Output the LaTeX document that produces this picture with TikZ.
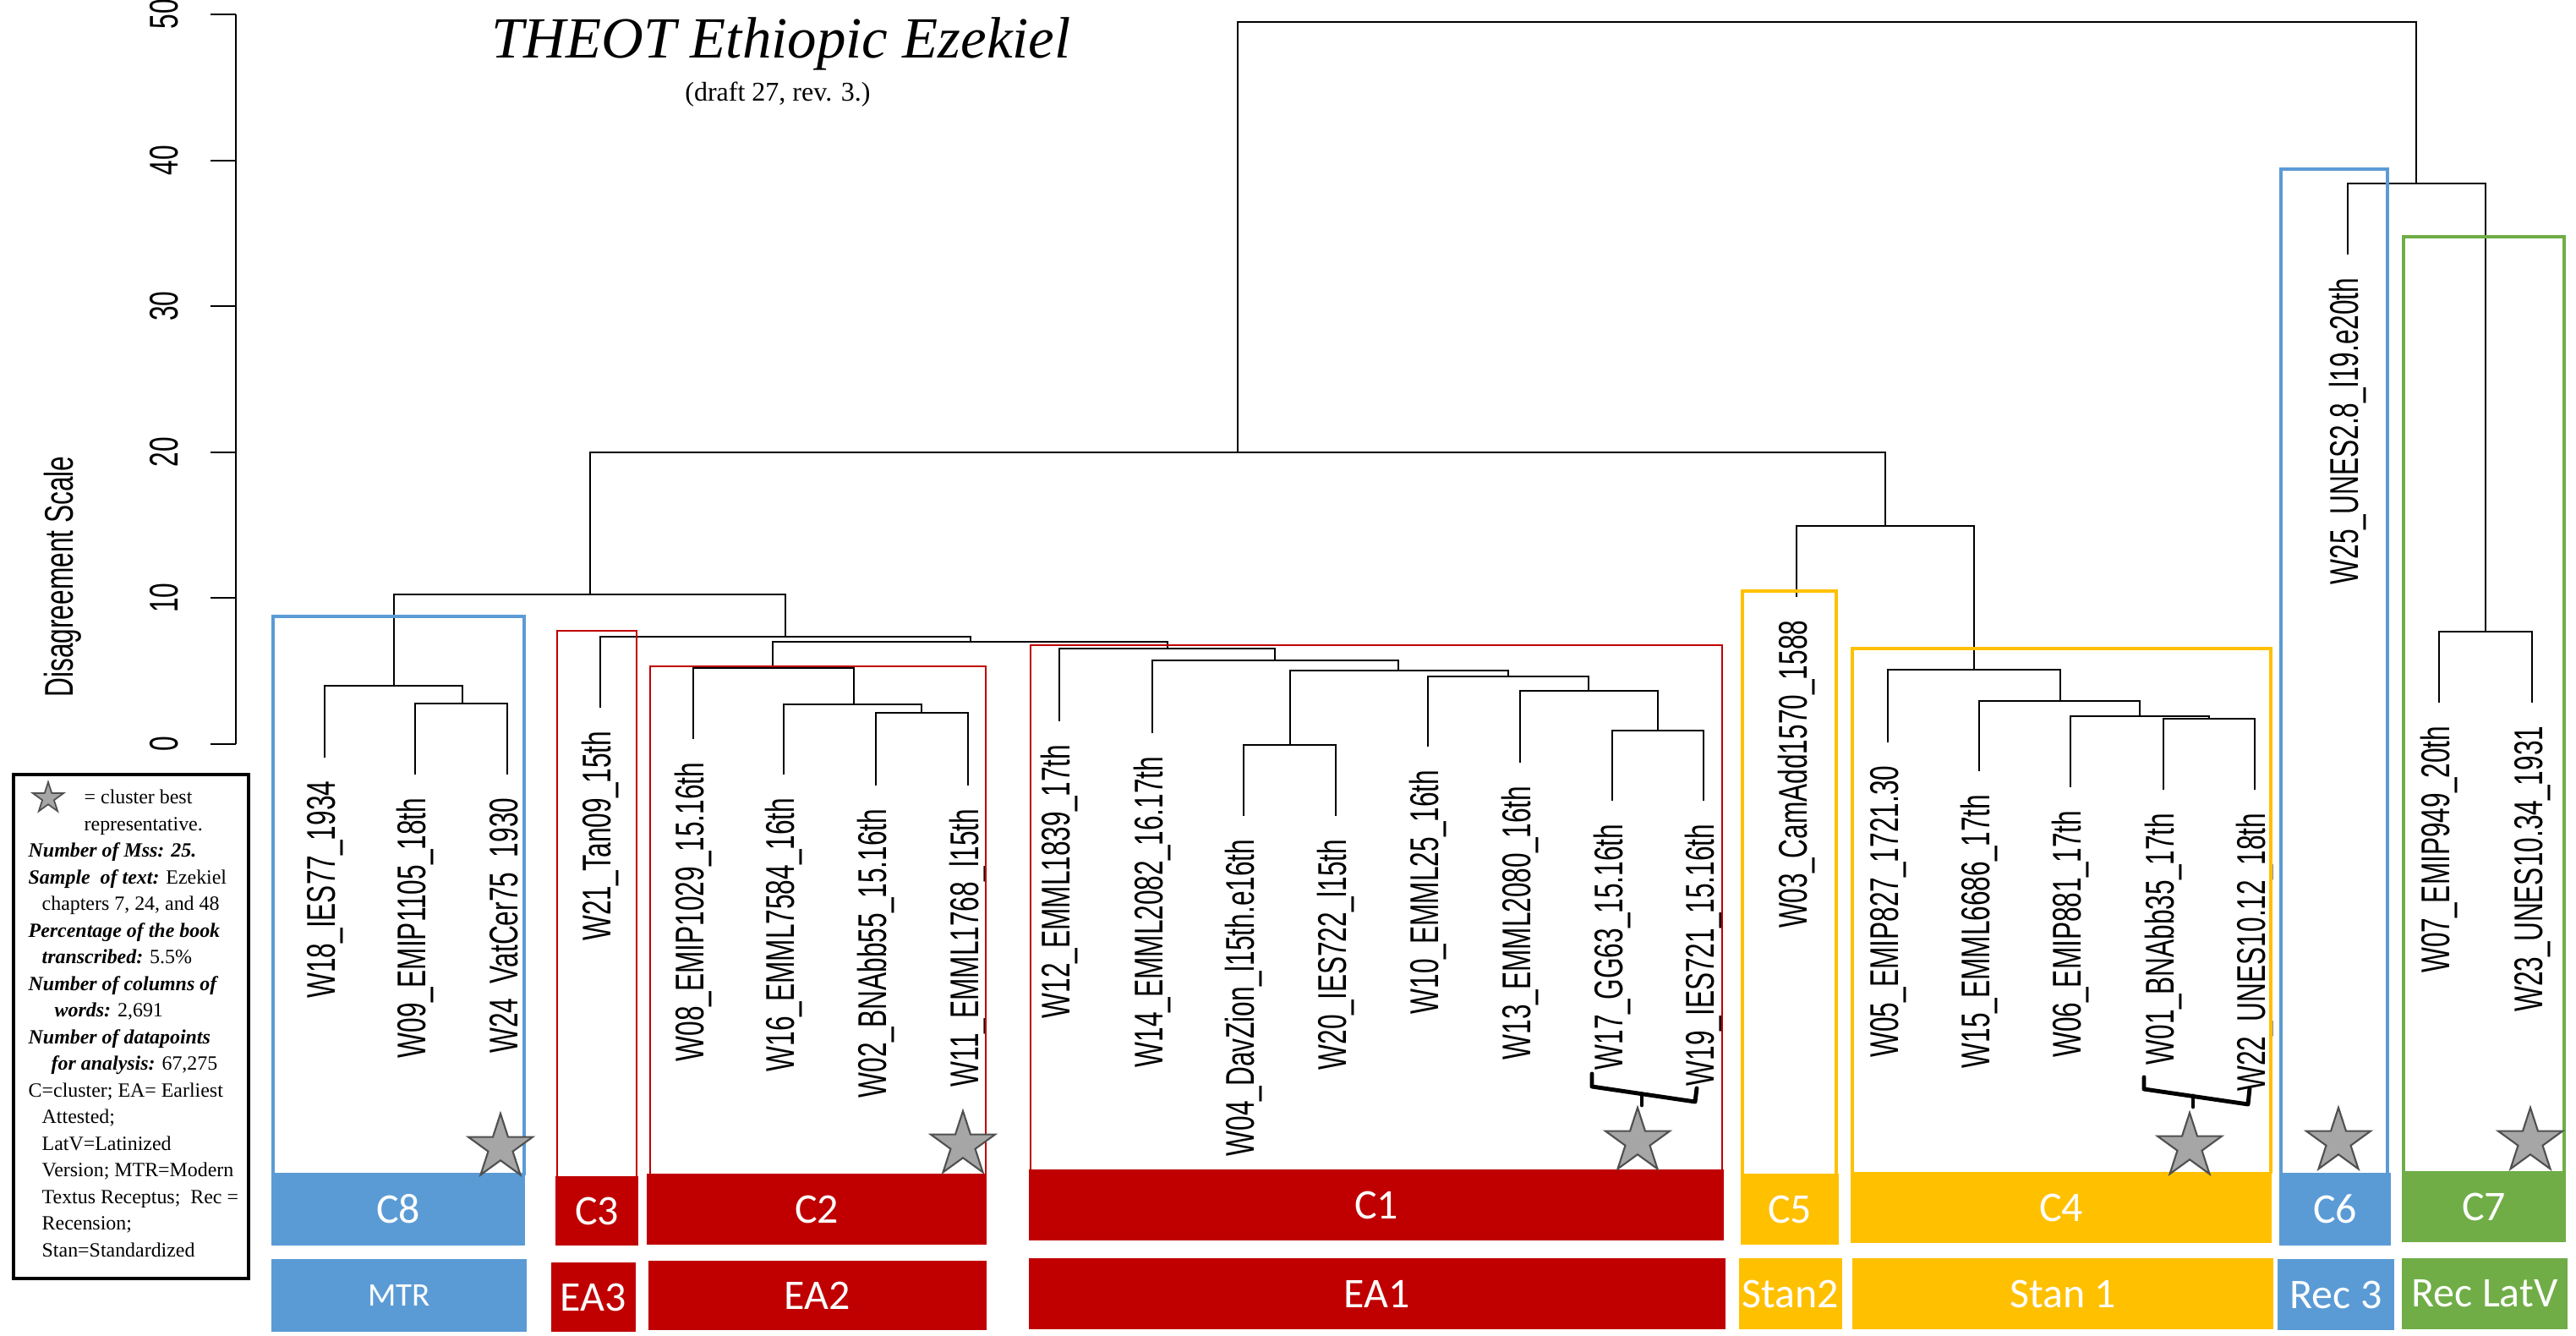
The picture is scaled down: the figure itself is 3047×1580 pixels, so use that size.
\documentclass[tikz,border=0pt]{standalone}
\usepackage{fontspec}
\usepackage{graphicx}
\setmainfont{Liberation Serif}
\newfontfamily\plotfont{Liberation Sans}
\newfontfamily\barfont{Carlito}
\usetikzlibrary{shapes.geometric, positioning}
\definecolor{clublue}{RGB}{91,155,213}
\definecolor{clured}{RGB}{192,0,0}
\definecolor{cluyellow}{RGB}{255,192,0}
\definecolor{clugreen}{RGB}{112,173,71}
\definecolor{stargray}{RGB}{166,166,166}
\definecolor{staredge}{RGB}{80,80,80}
\newcommand{\vlbl}[1]{\scalebox{1}[1.5]{#1}}
\newcommand{\bfit}[1]{\textbf{\textit{#1}}}

\begin{document}
\begin{tikzpicture}[
  x=0.01cm, y=-0.01cm,
  tree/.style={line width=0.6pt},
  leaflbl/.style={rotate=90, anchor=base east, inner sep=0pt, font=\plotfont\fontsize{9}{10}\selectfont},
  ticklbl/.style={rotate=90, anchor=base, inner sep=0pt, font=\plotfont\fontsize{9}{10}\selectfont},
  clubar/.style={inner sep=0pt, text=white, font=\barfont\fontsize{14.2}{16}\selectfont},
  framebox/.style={line width=1.2pt},
  thinframe/.style={line width=0.8pt},
  beststar/.style={star, star points=5, star point ratio=2.618, minimum size=0.8cm, inner sep=0pt, fill=stargray, draw=staredge, line width=0.6pt},
  legtxt/.style={anchor=base west, inner sep=0pt, font=\fontsize{6.8}{9}\selectfont},
  brace/.style={line width=1.4pt, line cap=round, line join=round}
]
\useasboundingbox (0,0) rectangle (3047,1580);

% title
\node[anchor=base, inner sep=0pt, font=\itshape\fontsize{19.6}{22}\selectfont] (title) at (924,69) {THEOT Ethiopic Ezekiel};
\node[anchor=base, inner sep=0pt, font=\fontsize{9.1}{11}\selectfont] (subtitle) at (920,120) {(draft 27, rev. 3.)};

% axis
\draw[tree] (279,880) -- (279,17);
\draw[tree] (249,880) -- (279,880);
\draw[tree] (249,707.4) -- (279,707.4);
\draw[tree] (249,534.8) -- (279,534.8);
\draw[tree] (249,362.2) -- (279,362.2);
\draw[tree] (249,189.6) -- (279,189.6);
\draw[tree] (249,17) -- (279,17);
\node[ticklbl] (t0) at (210,880) {\vlbl{0}};
\node[ticklbl] (t10) at (210,707.4) {\vlbl{10}};
\node[ticklbl] (t20) at (210,534.8) {\vlbl{20}};
\node[ticklbl] (t30) at (210,362.2) {\vlbl{30}};
\node[ticklbl] (t40) at (210,189.6) {\vlbl{40}};
\node[ticklbl] (t50) at (210,17) {\vlbl{50}};
\node[ticklbl] (ylabel) at (87,682) {\vlbl{Disagreement Scale}};

% leaves
\coordinate (W18) at (384,896);
\coordinate (W09) at (491,916);
\coordinate (W24) at (600,916);
\coordinate (W21) at (710,837);
\coordinate (W08) at (820,874);
\coordinate (W16) at (927,916);
\coordinate (W02) at (1036,929);
\coordinate (W11) at (1145,929);
\coordinate (W12) at (1253,853);
\coordinate (W14) at (1363,867);
\coordinate (W04) at (1471,965);
\coordinate (W20) at (1580,965);
\coordinate (W10) at (1689,883);
\coordinate (W13) at (1798,902);
\coordinate (W17) at (1907,947);
\coordinate (W19) at (2015,947);
\coordinate (W03) at (2125,706);
\coordinate (W05) at (2233,878);
\coordinate (W15) at (2341,912);
\coordinate (W06) at (2449,931);
\coordinate (W01) at (2559,934);
\coordinate (W22) at (2667,934);
\coordinate (W25) at (2777,301);
\coordinate (W07) at (2885,831);
\coordinate (W23) at (2995,831);

% merges
\coordinate (m8b) at (547,832);
\coordinate (m8) at (466,811);
\coordinate (m2c) at (1090,843);
\coordinate (m2b) at (1010,833);
\coordinate (m2) at (914,790);
\coordinate (m1g) at (1961,864);
\coordinate (m1f) at (1879,817);
\coordinate (m1e) at (1784,800);
\coordinate (m1d) at (1526,881);
\coordinate (m1c) at (1654,793);
\coordinate (m1b) at (1508,781);
\coordinate (m1) at (1381,767);
\coordinate (m21) at (1148,759);
\coordinate (mea) at (929,753);
\coordinate (mleft) at (698,703);
\coordinate (m4d) at (2613,850);
\coordinate (m4c) at (2531,847);
\coordinate (m4b) at (2437,829);
\coordinate (m4) at (2335,792);
\coordinate (mstan) at (2230,622);
\coordinate (mmid) at (1464,535);
\coordinate (m7) at (2940,747);
\coordinate (mrec) at (2858,217);
\coordinate (root) at (2161,26);

% dendrogram
\draw[tree] (W09) |- (m8b) -| (W24);
\draw[tree] (W18) |- (m8) -| (m8b);
\draw[tree] (W02) |- (m2c) -| (W11);
\draw[tree] (W16) |- (m2b) -| (m2c);
\draw[tree] (W08) |- (m2) -| (m2b);
\draw[tree] (W17) |- (m1g) -| (W19);
\draw[tree] (W13) |- (m1f) -| (m1g);
\draw[tree] (W10) |- (m1e) -| (m1f);
\draw[tree] (W04) |- (m1d) -| (W20);
\draw[tree] (m1d) |- (m1c) -| (m1e);
\draw[tree] (W14) |- (m1b) -| (m1c);
\draw[tree] (W12) |- (m1) -| (m1b);
\draw[tree] (m2) |- (m21) -| (m1);
\draw[tree] (W21) |- (mea) -| (m21);
\draw[tree] (m8) |- (mleft) -| (mea);
\draw[tree] (W01) |- (m4d) -| (W22);
\draw[tree] (W06) |- (m4c) -| (m4d);
\draw[tree] (W15) |- (m4b) -| (m4c);
\draw[tree] (W05) |- (m4) -| (m4b);
\draw[tree] (W03) |- (mstan) -| (m4);
\draw[tree] (mleft) |- (mmid) -| (mstan);
\draw[tree] (W07) |- (m7) -| (W23);
\draw[tree] (W25) |- (mrec) -| (m7);
\draw[tree] (mmid) |- (root) -| (mrec);

% leaf labels
\node[leaflbl] (lW18) at ([shift={(12,27)}]W18) {\vlbl{W18\_IES77\_1934}};
\node[leaflbl] (lW09) at ([shift={(12,27)}]W09) {\vlbl{W09\_EMIP1105\_18th}};
\node[leaflbl] (lW24) at ([shift={(12,27)}]W24) {\vlbl{W24\_VatCer75\_1930}};
\node[leaflbl] (lW21) at ([shift={(12,27)}]W21) {\vlbl{W21\_Tan09\_15th}};
\node[leaflbl] (lW08) at ([shift={(12,27)}]W08) {\vlbl{W08\_EMIP1029\_15.16th}};
\node[leaflbl] (lW16) at ([shift={(12,27)}]W16) {\vlbl{W16\_EMML7584\_16th}};
\node[leaflbl] (lW02) at ([shift={(12,27)}]W02) {\vlbl{W02\_BNAbb55\_15.16th}};
\node[leaflbl] (lW11) at ([shift={(12,27)}]W11) {\vlbl{W11\_EMML1768\_l15th}};
\node[leaflbl] (lW12) at ([shift={(12,27)}]W12) {\vlbl{W12\_EMML1839\_17th}};
\node[leaflbl] (lW14) at ([shift={(12,27)}]W14) {\vlbl{W14\_EMML2082\_16.17th}};
\node[leaflbl] (lW04) at ([shift={(12,27)}]W04) {\vlbl{W04\_DavZion\_l15th.e16th}};
\node[leaflbl] (lW20) at ([shift={(12,27)}]W20) {\vlbl{W20\_IES722\_l15th}};
\node[leaflbl] (lW10) at ([shift={(12,27)}]W10) {\vlbl{W10\_EMML25\_16th}};
\node[leaflbl] (lW13) at ([shift={(12,27)}]W13) {\vlbl{W13\_EMML2080\_16th}};
\node[leaflbl] (lW17) at ([shift={(12,27)}]W17) {\vlbl{W17\_GG63\_15.16th}};
\node[leaflbl] (lW19) at ([shift={(12,27)}]W19) {\vlbl{W19\_IES721\_15.16th}};
\node[leaflbl] (lW03) at ([shift={(12,27)}]W03) {\vlbl{W03\_CamAdd1570\_1588}};
\node[leaflbl] (lW05) at ([shift={(12,27)}]W05) {\vlbl{W05\_EMIP827\_1721.30}};
\node[leaflbl] (lW15) at ([shift={(12,27)}]W15) {\vlbl{W15\_EMML6686\_17th}};
\node[leaflbl] (lW06) at ([shift={(12,27)}]W06) {\vlbl{W06\_EMIP881\_17th}};
\node[leaflbl] (lW01) at ([shift={(12,27)}]W01) {\vlbl{W01\_BNAbb35\_17th}};
\node[leaflbl] (lW22) at ([shift={(12,27)}]W22) {\vlbl{W22\_UNES10.12\_18th}};
\node[leaflbl] (lW25) at ([shift={(12,27)}]W25) {\vlbl{W25\_UNES2.8\_l19.e20th}};
\node[leaflbl] (lW07) at ([shift={(12,27)}]W07) {\vlbl{W07\_EMIP949\_20th}};
\node[leaflbl] (lW23) at ([shift={(12,27)}]W23) {\vlbl{W23\_UNES10.34\_1931}};

% cluster frames
\draw[framebox, clublue] (323,1390) |- (620,729) -- (620,1390);
\draw[thinframe, clured] (659,1393) |- (753,746) -- (753,1393);
\draw[thinframe, clured] (769,1391) |- (1166,788) -- (1166,1391);
\draw[thinframe, clured] (1219,1385) |- (2037,763) -- (2037,1385);
\draw[framebox, cluyellow] (2061,1390) |- (2172,699) -- (2172,1390);
\draw[framebox, cluyellow] (2191,1388) |- (2686,767) -- (2686,1388);
\draw[framebox, clublue] (2698,1390) |- (2824,200) -- (2824,1390);
\draw[framebox, clugreen] (2843,1387) |- (3033,280) -- (3033,1387);

% cluster bars
\node[clubar, fill=clublue, minimum width=3.00cm, minimum height=0.85cm] (c8) at (471,1430) {C8};
\node[clubar, fill=clured, minimum width=0.98cm, minimum height=0.82cm] (c3) at (706,1432) {C3};
\node[clubar, fill=clured, minimum width=4.02cm, minimum height=0.83cm] (c2) at (966,1430) {C2};
\node[clubar, fill=clured, minimum width=8.21cm, minimum height=0.84cm] (c1) at (1628,1425) {C1};
\node[clubar, fill=cluyellow, minimum width=1.16cm, minimum height=0.84cm] (c5) at (2117,1430) {C5};
\node[clubar, fill=cluyellow, minimum width=4.97cm, minimum height=0.83cm] (c4) at (2438,1428) {C4};
\node[clubar, fill=clublue, minimum width=1.32cm, minimum height=0.85cm] (c6) at (2762,1430) {C6};
\node[clubar, fill=clugreen, minimum width=1.94cm, minimum height=0.83cm] (c7) at (2938,1427) {C7};

% group bars
\node[clubar, fill=clublue, minimum width=3.01cm, minimum height=0.85cm, font=\barfont\fontsize{11.1}{13}\selectfont] (mtr) at (472,1532) {MTR};
\node[clubar, fill=clured, minimum width=1.00cm, minimum height=0.82cm] (ea3) at (702,1534) {EA3};
\node[clubar, fill=clured, minimum width=3.99cm, minimum height=0.82cm] (ea2) at (967,1532) {EA2};
\node[clubar, fill=clured, minimum width=8.23cm, minimum height=0.84cm] (ea1) at (1629,1530) {EA1};
\node[clubar, fill=cluyellow, minimum width=1.22cm, minimum height=0.84cm] (stan2) at (2118,1530) {Stan2};
\node[clubar, fill=cluyellow, minimum width=4.97cm, minimum height=0.83cm] (stan1) at (2440,1530) {Stan 1};
\node[clubar, fill=clublue, minimum width=1.38cm, minimum height=0.84cm] (rec3) at (2763,1531) {Rec 3};
\node[clubar, fill=clugreen, minimum width=1.95cm, minimum height=0.84cm] (reclat) at (2939,1530) {Rec LatV};

% best representatives
\node[beststar] (s8) at (592,1357) {};
\node[beststar] (s2) at (1139,1354) {};
\node[beststar] (s1) at (1937,1350) {};
\node[beststar] (s4) at (2590,1356) {};
\node[beststar] (s6) at (2766,1350) {};
\node[beststar] (s7) at (2993,1350) {};
\draw[brace] (1883,1270) -- (1883,1285) -- (2005,1303) -- (2007,1287);
\draw[brace] (1942,1294) -- (1942,1307);
\draw[brace] (2536,1274) -- (2536,1288) -- (2659,1306) -- (2661,1287);
\draw[brace] (2594,1296) -- (2594,1309);

% legend
\draw[line width=1.2pt] (16,916) rectangle (294,1512);
\node[beststar, minimum size=0.38cm, line width=0.5pt] (lgstar) at (57,944) {};
\node[legtxt] (lg1) at (99,951) {= cluster best};
\node[legtxt] (lg2) at (99,982.5) {representative.};
\node[legtxt] (lg3) at (33,1014) {\bfit{Number of Mss: 25.}};
\node[legtxt] (lg4) at (33,1045.5) {\bfit{Sample\ \ of text:} Ezekiel};
\node[legtxt] (lg5) at (49,1077) {chapters 7, 24, and 48};
\node[legtxt] (lg6) at (33,1108.5) {\bfit{Percentage of the book}};
\node[legtxt] (lg7) at (49,1140) {\bfit{transcribed:} 5.5\%};
\node[legtxt] (lg8) at (33,1171.5) {\bfit{Number of columns of}};
\node[legtxt] (lg9) at (64,1203) {\bfit{words:} 2,691};
\node[legtxt] (lg10) at (33,1234.5) {\bfit{Number of datapoints}};
\node[legtxt] (lg11) at (60,1266) {\bfit{for analysis:} 67,275};
\node[legtxt] (lg12) at (33,1297.5) {C=cluster; EA= Earliest};
\node[legtxt] (lg13) at (49,1329) {Attested;};
\node[legtxt] (lg14) at (49,1360.5) {LatV=Latinized};
\node[legtxt] (lg15) at (49,1392) {Version; MTR=Modern};
\node[legtxt] (lg16) at (49,1423.5) {Textus Receptus;\ \ Rec =};
\node[legtxt] (lg17) at (49,1455) {Recension;};
\node[legtxt] (lg18) at (49,1486.5) {Stan=Standardized};

\end{tikzpicture}
\end{document}
